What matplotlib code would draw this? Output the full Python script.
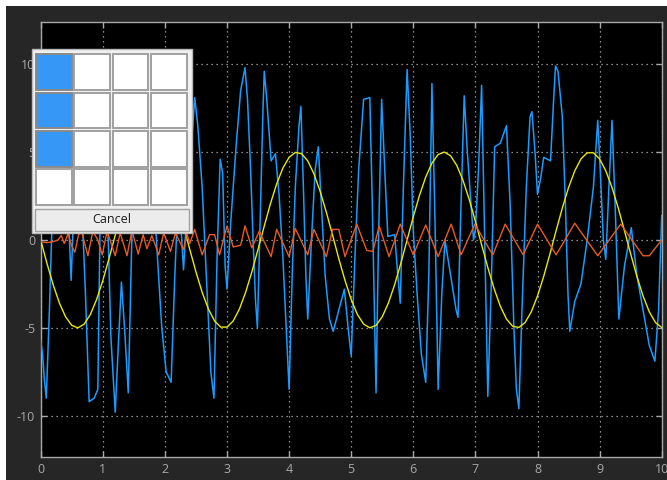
import numpy as np
import matplotlib
matplotlib.use("Agg")
import matplotlib.pyplot as plt
from matplotlib.patches import Rectangle

plt.rcParams['font.family'] = ['Open Sans', 'DejaVu Sans']
plt.rcParams['axes.unicode_minus'] = False

# ---------------- data ----------------
yellow_t = [round(0.1 * k, 1) for k in range(101)]
yellow_v = [0.00, -1.32, -2.54, -3.58, -4.37, -4.86, -5.00, -4.79, -4.24, -3.39,
            -2.31, -1.06, 0.27, 1.57, 2.76, 3.76, 4.50, 4.91, 4.98, 4.70,
            4.09, 3.19, 2.07, 0.80, -0.53, -1.82, -2.98, -3.93, -4.61, -4.96,
            -4.96, -4.61, -3.93, -2.98, -1.82, -0.53, 0.79, 2.07, 3.19, 4.09,
            4.70, 4.98, 4.91, 4.50, 3.76, 2.76, 1.57, 0.27, -1.06, -2.30,
            -3.39, -4.24, -4.79, -5.00, -4.86, -4.37, -3.58, -2.54, -1.32, 0.00,
            1.32, 2.54, 3.58, 4.37, 4.86, 5.00, 4.79, 4.24, 3.39, 2.31,
            1.06, -0.27, -1.57, -2.76, -3.76, -4.50, -4.91, -4.98, -4.70, -4.09,
            -3.19, -2.07, -0.80, 0.53, 1.82, 2.98, 3.93, 4.61, 4.96, 4.96,
            4.61, 3.93, 2.98, 1.82, 0.53, -0.79, -2.07, -3.19, -4.09, -4.70,
            -4.98]

blue_t = [0.0, 0.03, 0.06, 0.09, 0.14, 0.2, 0.25, 0.32, 0.38, 0.44, 0.49, 0.53, 0.58,
          0.65, 0.72, 0.78, 0.86, 0.92, 0.96, 1.02, 1.08, 1.13, 1.2, 1.25, 1.3, 1.35,
          1.41, 1.47, 1.53, 1.6, 1.65, 1.72, 1.8, 1.88, 1.95, 2.02, 2.1, 2.16, 2.22,
          2.28, 2.3, 2.36, 2.42, 2.48, 2.53, 2.6, 2.68, 2.74, 2.79, 2.84, 2.89, 2.93,
          2.97, 3.0, 3.06, 3.15, 3.22, 3.29, 3.33, 3.38, 3.42, 3.46, 3.49, 3.53, 3.58,
          3.6, 3.64, 3.68, 3.71, 3.78, 3.84, 3.9, 3.96, 4.0, 4.05, 4.1, 4.16, 4.19,
          4.23, 4.27, 4.3, 4.36, 4.42, 4.47, 4.52, 4.58, 4.65, 4.71, 4.8, 4.89, 4.95,
          5.0, 5.06, 5.12, 5.2, 5.3, 5.34, 5.4, 5.44, 5.49, 5.54, 5.59, 5.7, 5.75,
          5.79, 5.84, 5.9, 5.95, 6.0, 6.06, 6.13, 6.2, 6.25, 6.3, 6.35, 6.4, 6.46,
          6.51, 6.6, 6.69, 6.72, 6.76, 6.82, 6.87, 6.93, 6.97, 7.0, 7.05, 7.1, 7.15,
          7.2, 7.26, 7.31, 7.4, 7.5, 7.56, 7.62, 7.66, 7.7, 7.75, 7.82, 7.88, 7.91,
          7.96, 8.0, 8.05, 8.1, 8.21, 8.26, 8.29, 8.33, 8.4, 8.45, 8.49, 8.52, 8.6,
          8.7, 8.8, 8.9, 8.97, 9.01, 9.06, 9.1, 9.15, 9.2, 9.25, 9.31, 9.4, 9.51,
          9.6, 9.7, 9.8, 9.89, 9.95, 10.0]
blue_v = [-5.7, -6.5, -8.0, -9.0, -4.0, 3.0, 7.0, 5.0, 8.5, 2.0, -2.3, 1.5, 6.0,
          3.0, -3.0, -9.2, -9.0, -8.5, 2.0, 6.5, 1.0, -5.5, -9.8, -6.0, -2.4, -5.0,
          -8.7, 0.5, 6.0, 2.0, 7.0, 1.0, 4.0, -1.0, -5.0, -7.5, -8.1, -2.0, 3.0,
          -0.5, -1.7, 2.0, 5.0, 8.1, 6.5, 3.0, -3.0, -7.5, -9.0, -1.0, 4.6, 3.8,
          -1.5, -2.8, 1.0, 5.5, 8.5, 9.8, 8.0, 4.0, 0.0, -3.5, -5.0, 0.5, 7.5,
          9.6, 8.0, 6.0, 4.5, 4.9, 2.5, -1.0, -5.5, -8.5, -2.0, 3.0, 6.5, 7.6,
          3.0, -2.0, -4.5, 0.0, 4.0, 5.3, 2.0, -2.0, -4.5, -5.2, -4.0, -2.8, -5.0,
          -6.6, -1.0, 4.0, 8.0, 8.1, 2.0, -8.7, 0.0, 8.0, 4.0, 0.2, 0.3, -2.0,
          -3.6, 3.0, 9.7, 6.0, 0.5, -3.0, -6.5, -8.1, -2.0, 8.9, 1.0, -8.5, -3.0,
          0.0, -2.0, -4.0, -4.4, 1.0, 8.2, 5.0, 2.0, 0.0, 0.6, 4.0, 8.8, 0.0,
          -8.9, -2.0, 5.3, 5.5, 6.5, 2.0, -5.0, -8.5, -9.6, -4.0, 3.0, 7.0, 7.3,
          5.0, 2.6, 3.5, 4.7, 4.5, 8.0, 9.9, 9.6, 7.0, 2.0, -3.0, -5.2, -3.5,
          -2.5, 0.0, 3.0, 6.8, 4.0, 0.0, -1.1, 3.0, 6.8, 2.0, -4.5, -1.5, 0.7,
          -2.0, -4.0, -6.0, -6.9, -4.0, 1.4]

orange_t = [0, 0.1, 0.2, 0.28, 0.33, 0.38, 0.44, 0.5, 0.55, 0.61, 0.66, 0.76, 0.84,
            0.92, 0.99, 1.07, 1.2, 1.28, 1.39, 1.47, 1.57, 1.65, 1.71, 1.79, 1.9,
            1.98, 2.09, 2.17, 2.3, 2.35, 2.4, 2.48, 2.6, 2.72, 2.8, 2.88, 3.0, 3.1,
            3.22, 3.29, 3.4, 3.52, 3.71, 3.8, 4.0, 4.1, 4.3, 4.4, 4.6, 4.7, 4.8,
            4.9, 5.09, 5.25, 5.35, 5.45, 5.61, 5.79, 6.0, 6.2, 6.4, 6.61, 6.77,
            6.99, 7.28, 7.48, 7.77, 8.0, 8.3, 8.6, 8.97, 9.34, 9.7, 9.8, 10.0]
orange_v = [-0.1, -0.15, -0.1, 0.0, 0.25, -0.2, 0.35, -0.35, -0.7, 0.3, 0.45, -0.9,
            0.5, 0.0, -0.85, 0.5, -0.9, 0.4, -0.9, 0.55, -0.8, 0.3, -0.5, 0.25,
            -0.85, 0.4, -0.65, 0.4, -0.55, 0.4, -0.2, 0.6, -0.85, 0.3, 0.3, -0.85,
            0.8, -0.4, -0.3, 0.8, -0.45, 0.5, -0.95, 0.6, -0.95, 0.65, -0.85, 0.6,
            -0.95, 0.6, 0.6, -0.95, 0.9, -0.6, -0.65, 0.8, -0.95, 0.9, -0.85, 0.85,
            -0.95, 0.9, -0.85, 0.9, -0.85, 0.9, -0.85, 0.9, -0.85, 0.95, -0.9, 0.9,
            -0.9, -0.9, 0.0]

x_ticks = list(range(0, 11))
y_ticks = [-10, -5, 0, 5, 10]

# ---------------- figure ----------------
W, H = 667, 480
fig = plt.figure(figsize=(W / 100, H / 100), dpi=100, facecolor="white")

def fx(px):
    return px / W

def fy(py):
    return 1 - py / H

# dark frame background
fig.add_artist(Rectangle((fx(6), 0), 1 - fx(6), fy(6), transform=fig.transFigure,
                         facecolor="#262626", edgecolor="none", zorder=-10))

ax = fig.add_axes([fx(40.7), fy(457), fx(661.7) - fx(40.7), fy(22) - fy(457)])
ax.set_facecolor("black")

ax.plot(blue_t, blue_v, color="#1a9bff", lw=1.1, zorder=3)
ax.plot(yellow_t, yellow_v, color="#e8e80c", lw=1.0, zorder=4)
ax.plot(orange_t, orange_v, color="#ea5a22", lw=1.0, zorder=5)

ax.set_xlim(0, 10)
ax.set_ylim(-12.35, 12.4)
ax.set_xticks(x_ticks)
ax.set_yticks(y_ticks)
ax.grid(True, color="#b4b4b4", linestyle=(0, (1, 3)), linewidth=0.9)
for s in ax.spines.values():
    s.set_color("#a8a8a8")
    s.set_linewidth(1.0)
ax.tick_params(direction="in", length=4, width=1, colors="#a8a8a8",
               labelcolor="#a8a8a8", labelsize=9, top=True, right=True,
               pad=4)

# ---------------- layout popup ----------------
def prect(x0, y0, x1, y1, fc, ec, lw=1.0, z=20):
    fig.add_artist(Rectangle((fx(x0), fy(y1)), fx(x1) - fx(x0), fy(y0) - fy(y1),
                             transform=fig.transFigure, facecolor=fc,
                             edgecolor=ec, linewidth=lw, zorder=z))

prect(31.7, 49.3, 191.7, 232.7, "#f0f0f0", "#b8b8b8", 1.0, 20)
cols = [(36, 71.7), (74, 110), (112.7, 148.3), (151, 186.7)]
rows = [(54.3, 90), (92.7, 128.3), (131, 166.7), (169.3, 205)]
for r, (y0, y1) in enumerate(rows):
    for c, (x0, x1) in enumerate(cols):
        fc = "#3797f7" if (c == 0 and r < 3) else "white"
        ec = "#8a8a8a" if (c == 0 and r < 3) else "#a0a0a0"
        prect(x0, y0, x1, y1, fc, ec, 1.4, 21)
prect(35, 209, 189, 231, "#ececec", "#a0a0a0", 1.0, 21)
fig.text(fx(112), fy(220), "Cancel", ha="center", va="center", fontsize=9,
         color="#1a1a1a", zorder=22)

fig.savefig("out.png", dpi=100, facecolor=fig.get_facecolor())
